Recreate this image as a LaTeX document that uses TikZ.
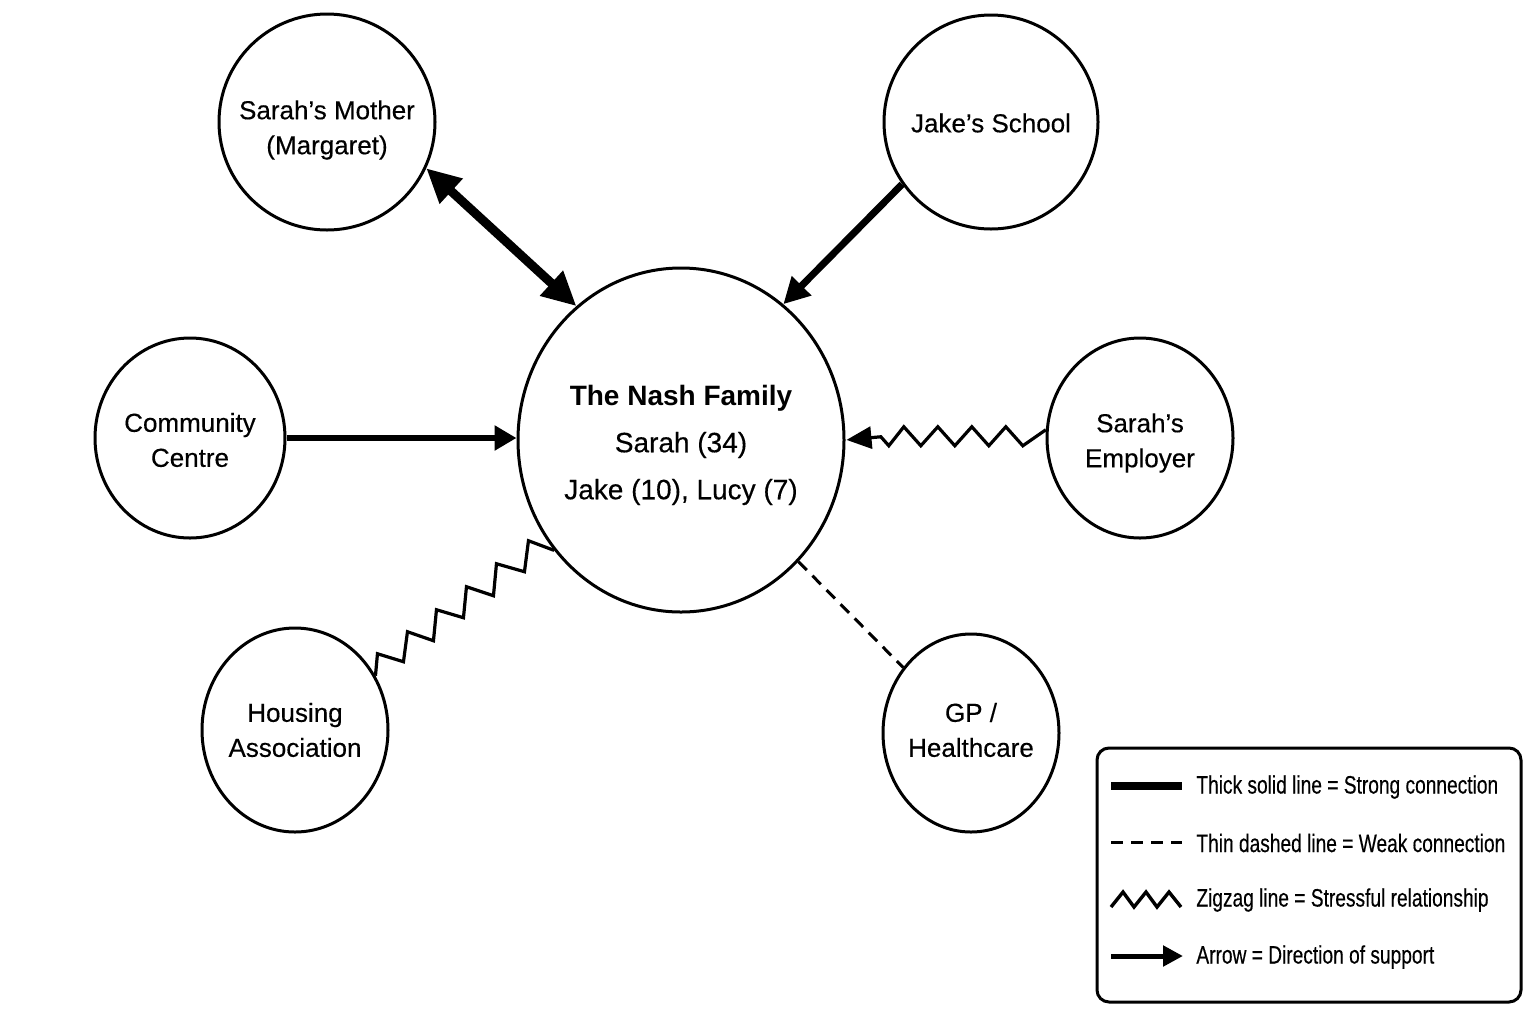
\documentclass[tikz,border=0pt]{standalone}
\usepackage{fontspec}
\setmainfont{Liberation Sans}[UprightFeatures={FakeBold=0.35}]
\newfontfamily\legendfont[FakeStretch=0.76,UprightFeatures={FakeBold=0.3}]{Liberation Sans}
\usetikzlibrary{shapes.geometric,arrows.meta}
\begin{document}
\begin{tikzpicture}[x=0.5pt,y=-0.5pt,
  circ/.style={ellipse, draw, line width=1.5pt, inner sep=0pt},
  lbl/.style={align=center, inner sep=0pt, font=\fontsize{13}{17.5}\selectfont},
  thickarrow/.style={line width=#1},
  stressline/.style={line width=1.6pt, line join=miter},
  weakline/.style={line width=1.5pt, dash pattern=on 6pt off 4pt},
  legtext/.style={anchor=west, inner sep=0pt, font=\legendfont\fontsize{12.6}{15}\selectfont}]
\useasboundingbox[fill=white] (0,0) rectangle (1536,1024);

% nodes
\node[circ, minimum width=163pt, minimum height=172pt,
  label={[lbl, yshift=-2.5pt, font=\fontsize{14}{23.5}\selectfont]center:{\textbf{The Nash Family}\\Sarah (34)\\Jake (10), Lucy (7)}}] (nash) at (681,440) {};
\node[circ, minimum width=108pt, minimum height=108pt,
  label={[lbl, yshift=-4pt]center:{Sarah’s Mother\\(Margaret)}}] (mother) at (327,122) {};
\node[circ, minimum width=107pt, minimum height=107pt,
  label={[lbl, yshift=-0.5pt]center:{Jake’s School}}] (school) at (991,122) {};
\node[circ, minimum width=95pt, minimum height=100pt,
  label={[lbl, yshift=-1pt]center:{Community\\Centre}}] (cc) at (190,438) {};
\node[circ, minimum width=93pt, minimum height=100pt,
  label={[lbl, yshift=-2.5pt]center:{Sarah’s\\Employer}}] (emp) at (1140,438) {};
\node[circ, minimum width=93pt, minimum height=102pt,
  label={[lbl]center:{Housing\\Association}}] (housing) at (295,730) {};
\node[circ, minimum width=88pt, minimum height=99pt,
  label={[lbl, yshift=1.5pt]center:{GP /\\Healthcare}}] (gp) at (971,733) {};

% connectors
\draw[thickarrow=4.5pt, {Triangle[length=17pt,width=16pt]}-{Triangle[length=17pt,width=16pt]}]
  (mother.-25) -- (nash.128);
\draw[thickarrow=3.5pt, -{Triangle[length=13pt,width=13pt]}] (school.215) -- (nash.53);
\draw[thickarrow=3pt, -{Triangle[length=11pt,width=12pt]}] (cc.east) -- (cc.east -| nash.west);
\draw[stressline, -{Triangle[length=12.5pt,width=11pt]}, shorten >=0.5pt]
  (emp.175) -- ++(-23,16) -- ++(-17,-19) -- ++(-17,19) -- ++(-17,-19) -- ++(-17,19)
  -- ++(-17,-19) -- ++(-17,19) -- ++(-17,-19) -- ++(-15,19) -- ++(-8,-9) -- (nash.east);
\draw[stressline]
  (housing.34) -- ++(2,-22) -- ++(26,8) -- ++(4,-30) -- ++(26,9) -- ++(3,-31)
  -- ++(27,8) -- ++(3,-31) -- ++(27,9) -- ++(3,-32) -- ++(28,8) -- ++(4,-31) -- (nash.221);
\draw[weakline] (nash.-46) -- (gp.136);

% legend
\draw[line width=1.5pt, rounded corners=6pt] (1097,748) rectangle (1521,1002);
\draw[line width=4pt] (1111,786) -- (1182,786);
\draw[line width=1.5pt, dash pattern=on 6pt off 4pt] (1111,842) -- (1182,842);
\draw[line width=1.7pt, line join=miter] (1111,907) -- (1123,892) -- (1134,907) -- (1146,892)
  -- (1157,907) -- (1169,892) -- (1181,907);
\draw[line width=2.5pt, -{Triangle[length=10pt,width=10pt]}] (1111,956) -- (1183,956);
\node[legtext] (l1) at (1196,787) {Thick solid line = Strong connection};
\node[legtext] (l2) at (1196,843) {Thin dashed line = Weak connection};
\node[legtext] (l3) at (1196,900) {Zigzag line = Stressful relationship};
\node[legtext] (l4) at (1196,957) {Arrow = Direction of support};
\end{tikzpicture}
\end{document}
